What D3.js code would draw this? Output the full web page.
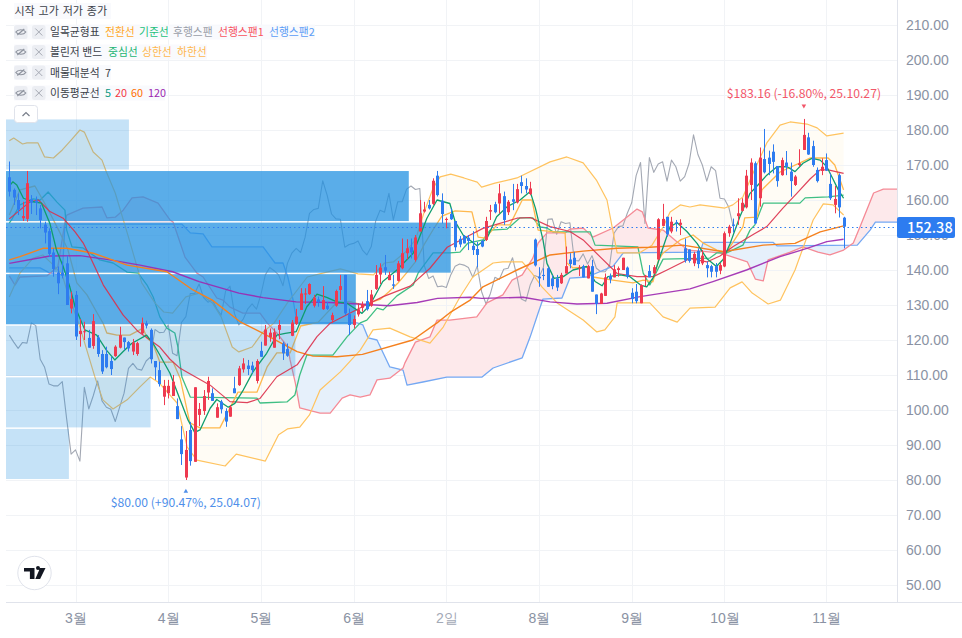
<!DOCTYPE html>
<html>
<head>
<meta charset="utf-8">
<title>차트</title>
<script src="https://cdn.jsdelivr.net/npm/d3@7"></script>
<style>
  html, body { margin: 0; padding: 0; background: #fff; }
  svg { display: block; font-family: "Noto Sans CJK KR", "Noto Sans", sans-serif; }
</style>
</head>
<body>
<svg id="chart" width="962" height="638"></svg>
<script>
// candles, one value per trading bar
var opens = [166.5,162.9,160,154.8,154.6,160.2,159.8,157.6,153,151.1,145,139.3,139.3,141.9,129,132.9,121.7,122.3,120.6,118.3,
  120.7,116,116,114,115.4,117.8,120.7,119.4,116.7,116,121.9,124.8,122.9,114,111.4,103.8,104.8,104,101.1,91.6,
  80.7,94.3,85.2,98.6,99.7,105,104.8,97.8,102.4,99.7,98.1,106.2,107.1,111.6,112.7,112.7,108.3,116.9,118.4,120.8,
  117.8,122.9,119,117.4,121.2,124.6,128.6,133,133.1,129.8,131.6,128.8,129.8,125.7,129.8,134.3,138.6,127.4,124.3,127.3,
  129.2,131.1,129.8,134.6,138.7,140.8,137.1,135.9,136.9,140.5,144.8,146.5,142.9,151,156.7,158.6,158.9,166.95,159.8,154.3,
  156,154,148.9,149.7,149.2,146.9,146,148.3,148.6,156.7,158.8,159,161.1,156.5,160.2,159.3,165.1,164,161.7,148.7,
  138.1,138.6,140.5,137.6,137.6,136.2,139,143,143.5,140.5,141.1,137.6,141.1,133,130.3,132.6,138.3,137.9,140,140,
  140.7,133.5,133.8,130.5,138.2,139.7,139,143,152.6,155.2,151,153.6,152.9,146.2,145.9,141.9,145.5,141.9,141.4,141.1,
  141.1,139.8,141,150.5,153,155.4,156.9,157.9,164.3,170.5,160.5,171.7,172.1,173.8,169.7,167.1,170.7,168.1,164.3,170,
  174.3,177.9,175.4,168.6,168.3,171.4,164.6,158.6,167.1,154.95];
var highs = [171,163.3,161.9,159.5,168.3,161.4,161,158.6,153.8,151.9,146.2,141,142.4,144.1,133.8,134,126,125.2,122.9,127.4,
  121.4,117.1,118.1,115.2,118.5,123.8,120.7,119.7,120.3,119.5,126.4,125.5,123.3,114,113.8,108.6,108.6,110,103.3,95.4,
  94,96.6,106.5,102,105.7,109.5,106.2,101.9,102.9,100.5,101.4,109.5,112.6,114.8,114.3,113.8,114.5,119.5,124.3,123.3,
  123.3,125.7,119.5,119,125.7,128.9,134.8,134.8,136.2,132.9,132.4,135.4,130.9,127.8,134.4,138.6,138.6,129,127,130.5,
  131,134.3,134.3,141.4,141.9,144.3,139.5,138.6,142.6,149,148.8,149,150,160,159.5,160,166.2,168.3,161.9,155,
  157.6,154,149.7,150,150,151.1,148,148.6,155.2,158.6,159.5,164.6,162.4,160,164.6,164.6,166.95,166.2,165.2,149,
  140.8,140.5,141,138.5,138.6,139.2,146.7,144.8,145.2,141.4,141.5,141.5,142.9,133,133.5,139,139,141.4,141,143.5,
  141,134.8,136,135.9,138.6,141.4,141.4,154.8,158.9,155.2,155.2,154.3,154.5,149,145.9,145.2,146.2,145.7,142.4,141.5,
  142,142,151,152.9,154.7,160.5,160.5,168.6,171.9,171,175,180.3,174.1,175.9,169.7,172.1,174,170.7,167.1,174.5,
  183.16,179.2,176.95,169.3,171.9,173.3,167.6,164,167.6,155.2];
var lows = [161,158.6,155.7,154,153.8,156,155.7,151.9,147.6,143.8,138.1,133.1,137.6,130,127.6,120,118.1,120,117.8,117.5,
  115.2,110.3,111.9,110,115.2,117.6,117.1,116.7,115.7,115.5,121.6,123.3,113.3,108.6,106.7,101.4,103.3,104,97.4,84.3,
  80,84.1,85.2,95.4,98.6,102.9,102.6,97.8,99,95.2,98.1,104.8,106.9,110.7,110,110.5,107.6,115.2,118.4,119.5,
  117.8,120.2,114.3,115.2,121.1,124.3,128.6,130.3,132.9,129.3,129.5,128.6,128.6,124.8,129.5,131.4,127.1,121.4,123.3,126.7,
  128.1,128.4,129.5,134.3,136,138.6,137.1,134.6,136.7,140.2,143,143.3,142.4,151,156.4,157.3,158.6,161,153.3,151.9,
  154.3,145.5,146.5,147.6,145.7,144.3,140.8,146.5,148.3,154.3,156.2,156.2,152.9,155.7,157.1,159,161.9,161.9,161.4,141,
  135.2,137.1,135.2,134.5,134,136,139,140.5,141.4,138.3,137.9,137.6,133.8,127.4,130.3,132.6,136.2,137.9,138.1,140,
  137.6,130.5,130.5,130.5,135.4,137.9,138.9,142.9,152.6,149.5,150.5,151,150,142.1,142.1,141.1,140.5,141.4,137.9,137.9,
  137.9,138.8,140.8,149.5,150.7,152.9,156.7,157.6,160,153.1,158.1,167.6,167.1,167.6,163.8,166.95,167.1,160.95,164,169.5,
  174.3,172.9,169.5,165,167.1,168.3,160,156.2,155,146.2];
var closes = [162.4,160.7,157.3,155.4,164.8,159.2,159.2,154.3,150.7,144.6,140.3,136.2,138.4,130,131.7,121,122.6,122.5,117.8,125.4,
  116,111,112.2,111.7,118.1,121.4,119.4,117.6,119.3,119.1,124.9,124.1,114.5,112.2,107.4,106.9,106.9,108.1,97.4,87.4,
  88.6,85.4,106.5,100.3,104,108.3,102.6,100.8,100.2,96.7,100.8,104.8,111.9,113.3,111.7,111.4,114,115.2,123,122.1,
  122.2,124.3,116.2,115.5,125,126.7,133.3,133.3,136,132.1,130.8,131.4,128.9,127.1,134,135.4,127.6,124.3,126,128.8,
  130.3,128.8,133,138.6,140.7,139.8,138.6,135.5,141.9,144.8,146.2,145,149.3,156.2,157.3,157.6,165.5,161.4,156,154.6,
  154.5,146.5,147.3,147.6,148.3,145.7,144.3,146.7,154,157.1,156.5,161.9,154.3,159.5,159.5,163.1,164,163,163.3,141.3,
  137.6,138.3,135.2,135.4,135,138.6,141.1,141.7,141.4,140.7,137.9,141.1,133.8,130.3,133.3,137.9,137.3,140.2,140.5,143.5,
  138.1,131.7,131.1,135.7,138.4,137.9,140.8,154.5,154.6,150.2,153.8,153.3,153.5,142.7,142.6,144.6,141.7,144.1,140.5,139.5,
  139.5,141.4,150.5,152.4,152.6,156.2,159.2,166.95,170.7,153.3,172.1,167.9,170.3,170.9,165.4,171.4,169.5,165.4,166.7,170.5,
  178.6,173,170,165.4,169.5,168.4,160.5,160.3,157.9,152.38];

// moving averages as [bar, price] readings
var ma5 = [[0,164],[0.8,165.2],[1.7,164.3],[3.2,160.5],[5.4,159.5],[7.3,159.1],[9.2,153.3],[10.7,145.7],[12.2,141],[13.7,135.2],[14.9,129.5],[17.1,122.9],[19.8,121.4],[22,117.1],[23.9,114.3],[25.8,116.7],[27.7,119],[31.1,121.4],[32.6,119],[34.1,115.7],[36.4,110.5],[38.7,102.9],[40.5,97.1],[42,93.6],[43.2,94.3],[45.5,100.5],[47,103],[49.6,100.8],[51.1,101.9],[53,105.7],[55.2,110.9],[58.3,116.2],[60.6,121.4],[62.5,121.9],[65,122.4],[67.4,129.5],[69.7,133.1],[71.9,132.2],[74.2,130.9],[76.5,130.5],[79.9,127.6],[81.7,130],[84.6,136.7],[87.8,140],[91.5,144.8],[94.6,154.8],[96.9,160],[99.8,159],[101,153.8],[102.8,150],[106,146.9],[108.2,149],[110.4,155.2],[112.8,158.1],[115.7,160],[118,162.4],[119.2,157.6],[120.9,148.6],[121.8,141.9],[123.4,137.6],[125.5,138.1],[127.7,140],[130.8,141],[132.7,136.7],[134.3,135.5],[135.6,138.1],[138.4,138.6],[140.6,138.1],[143,135.7],[144.4,135.2],[145.9,137.9],[147.9,145.7],[149.7,152.4],[151.3,153.5],[153.5,151],[155.8,147.6],[158,143.3],[160.2,141],[161.7,143],[163.3,147.6],[165.5,155.2],[167.8,161.9],[169.6,164.3],[171.6,167.1],[173.9,169.5],[176.2,169.5],[178,168.1],[179.8,170.5],[181.8,171.9],[183.7,171.4],[185.2,169.5],[186.7,165.7],[187.8,162.9],[189,160.5]];
var ma20 = [[0,154.6],[2.4,157.1],[4.7,159.5],[6.6,160],[9.2,156.7],[12.2,154.8],[14.9,150.9],[16.8,147.6],[18.3,143.8],[21.3,135.7],[25.8,127.1],[29.2,122.4],[31.9,120],[34,118.1],[36.4,114.5],[38.7,111.9],[45.5,107.1],[50,102.4],[53.9,102.1],[56.8,103.3],[60.6,109.5],[65.2,112.9],[69.7,120.95],[72.7,124.8],[80,129.5],[84.7,132.4],[90.8,135.4],[95.3,140.5],[99.2,146.5],[104.4,150],[107.3,151.9],[115,154.8],[118,155],[122.5,152.4],[127,151],[130,148.6],[133.8,143.8],[137.7,139],[142.2,138.1],[145.9,138.1],[149,140],[154.2,143.3],[158,142.3],[161,144],[164,146.7],[168.7,150.3],[171.6,152.4],[175.2,157.6],[178.4,161.9],[181.4,166],[183.7,168.6],[185.5,168.6],[189,167.6]];
var ma60 = [[0,142.9],[2.4,143.8],[7.6,146.2],[13,146.2],[19,144.8],[26.7,141.4],[35.7,139.5],[41.6,134.3],[46,131.4],[52.3,125.2],[57.5,121.9],[65.2,116.7],[68.8,115.4],[74.2,115.2],[80,115.9],[91.4,120],[96.9,124.9],[99.8,127.8],[104.4,131.4],[107.3,135.2],[115,140],[122.5,144.3],[130,145.4],[137.7,146.2],[145.1,146.5],[152.6,147.1],[161.7,145.2],[170.8,147.1],[178,147.6],[183.7,150.9],[189,152.6]];
var ma120 = [[0,141.9],[9.2,144],[16,144.1],[22.8,142.9],[29.6,141.4],[37,139.5],[43,136.7],[52,133.4],[57.5,132.1],[65,130.9],[72.6,130.7],[80,130.2],[86,129.8],[92.4,130.7],[97,131.9],[104.4,132.2],[107,131.9],[116.4,132.2],[122.5,130.9],[128.6,130.3],[135.4,130.5],[142.9,132.4],[154.2,134.6],[159.4,136.7],[167,140],[174.6,143.8],[180.7,146.2],[185.2,148.1],[189,148.8]];

// bollinger bands
var bbUpper = [[0,176.9],[1,177.7],[3,176],[4,176.3],[6.5,176.3],[8,172.3],[10,172],[12,174.3],[14,177.1],[16,180],[17,179.4],[19,173.7],[21,171.4],[22,168],[24,162],[27,149.4],[30,136.3],[33,130.6],[35,128],[37,127.7],[40,132.3],[43,133.4],[46,130.6],[48,126.6],[50.5,118],[52,116.6],[55,118],[57.5,122.3],[60,124.9],[63,130.6],[67.5,138],[71,139.1],[75,140.3],[79,138.9],[82.5,138.6],[85,142],[87,142.3],[89.7,145.1],[92,148.6],[94,156.6],[96,163.4],[97.6,166.6],[100,167.4],[103,166.3],[106,165.1],[107,163.7],[110,164.8],[115,166.3],[122.5,170.9],[126.3,172.3],[130,170.6],[133,165.7],[135.4,160],[136.7,151.4],[137.7,144.9],[142.8,144.9],[145.6,147.1],[148.1,152.3],[149.7,156.6],[152,158.6],[154.2,158],[156.5,158.6],[162.1,157.7],[163.9,158.6],[166.2,160.9],[168.5,167.7],[171.6,176.3],[174.6,181.4],[176.9,182.3],[180.7,181.7],[183,180.6],[185.2,178.3],[189,179.1]];
var bbLower = [[0,132.3],[2.4,139.1],[5.4,143.4],[7.6,144.3],[10,141.4],[12,138.6],[13,134.3],[16,123.7],[19.4,109.4],[21.2,102.9],[23.5,100.3],[26.7,102.9],[29.6,106.6],[31.9,109.4],[34,107.7],[38,102],[40.3,89.4],[42.5,85.7],[48.9,84],[51.4,87.4],[58,85.4],[61,92.9],[63,94.6],[65.8,95.1],[68,98.6],[70.4,105.7],[75,110.9],[79.5,117.1],[82.4,122.9],[86.2,123.4],[90.8,120.9],[95.3,119.1],[98.3,123.7],[102.1,132.3],[105,138],[109.6,142],[111.8,142.3],[116.2,142.3],[118.4,139.1],[120.7,135.1],[124.1,130.6],[130,125.7],[133.1,122.3],[134.9,122.9],[137.2,126.6],[137.7,130.6],[145.1,130.6],[148.1,126.6],[151.3,125.1],[154.2,129.1],[159.9,129.4],[163.3,134.9],[166,136.6],[168.3,133.4],[171.9,130.3],[174.7,131.4],[178,140],[182.1,154.3],[184.4,158.9],[186.6,158.6],[189,155.7]];

// ichimoku
var tenkan = [[0,155.7],[2.4,162.9],[5.8,164],[7.6,160],[9.2,156.3],[11.5,150.6],[13.3,145.7],[15.3,136.3],[17.6,132.9],[19.9,127.7],[21.2,124.9],[22.1,122],[24.4,121.4],[27.3,121.4],[30.3,123.4],[31.2,120.6],[32.5,119.1],[34.1,113.7],[37.1,113.7],[38.7,109.1],[40.9,96.3],[43.2,94.9],[47.7,94.9],[50,100.6],[51.8,105.1],[56.1,105.1],[58.4,112.3],[60.6,116.3],[63.6,116.3],[66,124],[70,125.1],[74,130.5],[77,131],[80,130],[84,131.6],[86,133.8],[88,136.2],[90,139.2],[92,142.3],[94,147.3],[96,151.5],[98,155.4],[101,156.9],[104.8,156.6],[106.2,149.4],[107.8,149.1],[110.5,152.9],[113.4,152.9],[116.2,160],[118.4,160],[119.8,151.4],[125.9,150.6],[126.3,142],[127.7,140.6],[131,140.9],[132.2,138],[136.7,137.1],[141.3,136.3],[143.6,137.1],[145.8,136.6],[147,142.6],[148,144.7],[152,148.6],[154.9,150],[157.2,147.7],[160.3,145.7],[162.5,145.1],[166.2,152.3],[166.6,154.9],[169.4,155.1],[170.5,162.9],[174.6,168],[179.6,170.9],[181.4,172],[185.5,172],[187,170],[189,162.9]];
var kijun = [[0,153.4],[0.5,154.3],[2.4,158.6],[5.4,160.3],[7,160],[8.8,162.3],[10.8,159.4],[12.6,157.1],[13,151.4],[14.2,146.6],[16.7,146.3],[20.5,142.9],[23.5,142],[26.7,139.4],[29.2,139.1],[31.2,135.7],[32.6,132.3],[34.1,126.6],[35.7,123.4],[37.5,122],[38.2,118],[39.1,109.4],[41,103.7],[56.1,103.4],[56.8,102],[62.9,102.3],[64.7,104.3],[65.8,110],[67.4,115.7],[73.3,115.7],[76.5,120.9],[79.5,124.9],[81,125.7],[83.3,129.1],[84.7,128.6],[87.8,132.6],[91.5,135.7],[92.6,139.1],[96,144.9],[99.8,144.9],[102.1,145.1],[103.9,147.7],[107.3,148.6],[108.9,151.4],[112.8,151.7],[115.7,154.9],[118.6,154.9],[120.2,152.3],[121.8,152],[123.2,150.9],[131.6,150.9],[132.7,147.1],[142.4,146.6],[143.6,139.1],[145.1,135.7],[148.1,143.1],[158.7,143.4],[160.3,144.9],[162.5,144.9],[166.2,147.1],[167.8,151.4],[168.9,152.9],[170.8,159.1],[179.1,159.1],[180.3,160.6],[185.5,160.9],[189,161.4]];
var span1 = [[0,138.3],[1.3,135.7],[2.4,138],[8.5,138.3],[11,140.9],[12.6,153.7],[13,155.7],[16.7,157.7],[21,158],[22.1,154.9],[24,155.1],[25.8,157.1],[27.8,160.6],[30.3,160.9],[33.7,159.1],[36.4,154.3],[37.1,153.7],[39.8,143.7],[42.5,139.1],[43.9,138],[47,132],[48.4,131.4],[50,129.4],[52.9,127.7],[56.8,127.7],[58.4,124.9],[60.6,122],[63.1,118],[63.6,114.3],[64.8,107.7],[65.8,100.6],[70.4,99.1],[72.7,99.1],[75.4,103.4],[77.2,104.3],[79.5,103.7],[81.7,104.3],[83.3,108.6],[86.2,109.1],[89.2,112],[89.6,113.4],[92,119.4],[95.3,120.9],[96.9,125.7],[99.8,125.7],[105.9,126.6],[108.2,130.6],[111.8,132.9],[113.9,137.1],[116.2,138.6],[118.6,143.4],[119.8,147.7],[121.8,150.6],[125.9,150.6],[127,151.7],[130,152],[132.2,149.4],[136.8,152],[139.1,154.3],[142.2,157.4],[143.4,156.6],[144.7,152],[148.1,151.4],[151.3,148],[153.8,145.7],[161,144.9],[167.2,142.3],[169,137.4],[170.8,136.9],[171.9,142.9],[176.9,145.1],[179.8,146.6],[183.2,145.1],[185.9,144.3],[189,145.7],[191.2,147.7],[192.7,152.3],[195.8,162],[198,163.1],[201.2,163.1]];
var span2 = [[0,140.6],[7,140.6],[9.2,139.1],[12,138.6],[12.6,153.1],[39.1,153.1],[41,150.6],[43.9,150.3],[45.9,146.6],[57.5,146.6],[60.2,142],[62,142],[63.1,138],[64.3,131.4],[65.2,124.9],[78.8,124.9],[80.1,124.3],[81.3,120.6],[83.3,120],[86.2,112.3],[89.2,111.4],[90.1,107.1],[93.7,108],[99.1,109.4],[107.1,109.4],[109.6,112],[116.2,114.9],[118,120.9],[119.8,127.7],[120.9,131.7],[125.2,132],[127,137.7],[130.9,138],[136.8,141.1],[139.1,144.9],[156.5,145.1],[157.2,147.9],[173,147.9],[173.9,146.9],[192.1,147.1],[195,151.4],[196.2,153.7],[201.2,153.7]];
var lagOffset = 25;

// volume profile rows, low price to high, and how far each reaches (in bars)
var profileEdges = [80,94.74,109.47,124.21,138.95,153.69,168.42,183.16];
var profileReach = [13.5,32,64.8,78.5,100,90.5,27.1];

// axis labels
var priceTicks = [50,60,70,80,90,100,110,120,130,140,150,160,170,180,190,200,210];
var monthBars = [15,36,57,78,99,120,141,162,185];
var monthLabels = ["3월","4월","5월","6월","2일","8월","9월","10월","11월"];
var lastPrice = 152.38;

var width = 962, left = 6, right = 897, bottom = 602;
var svg = d3.select("#chart");

var x = d3.scaleLinear().domain([0,189]).range([9.3,843.6]);
var y = d3.scaleLinear().domain([50,210]).range([585,25]);

var line = d3.line().x(function(d){ return x(d[0]); }).y(function(d){ return y(d[1]); });
var defs = svg.append("defs");

defs.append("clipPath").attr("id","plot").append("rect")
  .attr("x",left).attr("y",0).attr("width",right-left).attr("height",bottom);

// cloud colours are split by clipping on span 2
defs.append("clipPath").attr("id","aboveSpan2").append("path")
  .attr("d", d3.area().x(function(d){ return x(d[0]); }).y0(0).y1(function(d){ return y(d[1]); })(span2));
defs.append("clipPath").attr("id","belowSpan2").append("path")
  .attr("d", d3.area().x(function(d){ return x(d[0]); }).y0(bottom).y1(function(d){ return y(d[1]); })(span2));

// bollinger fill
var plot0 = svg.append("g").attr("clip-path","url(#plot)");
plot0.append("path")
  .attr("d", line(bbUpper.concat(bbLower.slice().reverse())))
  .attr("fill","#fffcf5");

// grid
var grid = svg.append("g").attr("stroke","#f1f3f6").attr("stroke-width",1);
grid.selectAll("line.h").data(priceTicks).enter().append("line")
  .attr("x1",left).attr("x2",right)
  .attr("y1",function(d){ return Math.round(y(d))+0.5; })
  .attr("y2",function(d){ return Math.round(y(d))+0.5; });
grid.selectAll("line.v").data(monthBars).enter().append("line")
  .attr("y1",0).attr("y2",bottom)
  .attr("x1",function(d){ return Math.round(x(d))+0.5; })
  .attr("x2",function(d){ return Math.round(x(d))+0.5; });

var plot = svg.append("g").attr("clip-path","url(#plot)");

// cloud
var cloudShape = line(span1.concat(span2.slice().reverse()));
plot.append("g").attr("clip-path","url(#aboveSpan2)").append("path")
  .attr("d",cloudShape).attr("fill","#fde9eb");
plot.append("g").attr("clip-path","url(#belowSpan2)").append("path")
  .attr("d",cloudShape).attr("fill","#e6f0fb");

function drawLine(parent, pts, color, w) {
  return parent.append("path").attr("d",line(pts)).attr("fill","none")
    .attr("stroke",color).attr("stroke-width",w).attr("stroke-linejoin","round");
}

var lagSpan = closes.slice(lagOffset).map(function(c,i){ return [i,c]; });
drawLine(plot, lagSpan, "#a3a8b3", 1.1);
drawLine(plot, span2, "#74a8f3", 1.3);
drawLine(plot, span1, "#f58a96", 1.3);
drawLine(plot, kijun, "#3fbf84", 1.3);
drawLine(plot, tenkan, "#ffb84d", 1.3);
drawLine(plot, bbUpper, "#ffc35f", 1.2);
drawLine(plot, bbLower, "#ffc35f", 1.2);

// volume profile sits over the indicators, under the averages and candles
var profileMax = d3.max(profileReach);
plot.selectAll("rect.row").data(profileReach).enter().append("rect")
  .attr("x",left)
  .attr("width",function(d){ return x(d)-left; })
  .attr("y",function(d,i){ return y(profileEdges[i+1])+0.5; })
  .attr("height",function(d,i){ return y(profileEdges[i])-y(profileEdges[i+1])-1.5; })
  .attr("fill","#2090e1")
  .attr("fill-opacity",function(d){ return d>=0.7*profileMax ? 0.74 : 0.26; });

drawLine(plot, ma120, "#9c27b0", 1.4).attr("stroke-opacity",0.9);
drawLine(plot, ma60, "#f5811f", 1.4);
drawLine(plot, ma20, "#dc2f4a", 1.2).attr("stroke-opacity",0.9);
drawLine(plot, ma5, "#0f9d6e", 1.3);

// candles
var bars = d3.range(closes.length);
var candle = plot.append("g").selectAll("g").data(bars).enter().append("g")
  .attr("fill",function(i){ return closes[i]>=opens[i] ? "#ee3a50" : "#2e7cf0"; });
candle.append("rect")
  .attr("x",function(i){ return Math.round(x(i)); }).attr("width",1)
  .attr("y",function(i){ return y(highs[i]); })
  .attr("height",function(i){ return y(lows[i])-y(highs[i]); });
candle.append("rect")
  .attr("x",function(i){ return Math.round(x(i))-1; }).attr("width",3)
  .attr("y",function(i){ return y(Math.max(opens[i],closes[i])); })
  .attr("height",function(i){ return Math.max(1,Math.abs(y(opens[i])-y(closes[i]))); });

// last price line
var lastY = Math.round(y(lastPrice))+0.5;
plot.append("line")
  .attr("x1",left).attr("x2",right).attr("y1",lastY).attr("y2",lastY)
  .attr("stroke","#2f7df0").attr("stroke-width",1).attr("stroke-dasharray","1.5 3");

// high / low notes
function note(bar, price, text, color, dy) {
  var px = x(bar), py = y(price);
  plot.append("text").attr("x",px).attr("y",py+(dy<0 ? -20.5 : 27)).attr("text-anchor","middle")
    .attr("font-size",12.2).attr("fill",color).text(text);
  plot.append("path").attr("transform","translate("+px+","+(py+dy)+")"+(dy<0 ? " rotate(180)" : ""))
    .attr("d",d3.symbol().type(d3.symbolTriangle).size(9)()).attr("fill",color);
}
note(180, 183.16, "$183.16 (-16.80%, 25.10.27)", "#f2576a", -13);
note(40, 80, "$80.00 (+90.47%, 25.04.07)", "#4f8fea", 11.5);

// axes
svg.append("line").attr("x1",right+0.5).attr("x2",right+0.5).attr("y1",0).attr("y2",bottom)
  .attr("stroke","#e0e3eb");
svg.append("line").attr("x1",left).attr("x2",width).attr("y1",bottom+0.5).attr("y2",bottom+0.5)
  .attr("stroke","#e0e3eb");

var yAxis = d3.axisRight(y).tickValues(priceTicks).tickFormat(d3.format(".2f")).tickSize(0).tickPadding(9);
svg.append("g").attr("transform","translate("+right+",0)").call(yAxis)
  .call(function(g){ g.select(".domain").remove(); })
  .selectAll("text").attr("font-size",14).attr("font-family","inherit").attr("fill","#8a92a3");

var xAxis = d3.axisBottom(x).tickValues(monthBars)
  .tickFormat(function(d,i){ return monthLabels[i]; }).tickSize(0).tickPadding(11);
svg.append("g").attr("transform","translate(0,"+bottom+")").call(xAxis)
  .call(function(g){ g.select(".domain").remove(); })
  .selectAll("text").attr("font-size",14).attr("font-family","inherit")
  .attr("font-weight",function(d,i){ return monthLabels[i]=="2일" ? 400 : 500; })
  .attr("fill",function(d,i){ return monthLabels[i]=="2일" ? "#a3a9b6" : "#8a92a3"; });

// current price tag
svg.append("rect").attr("x",right).attr("y",lastY-10.5).attr("width",58).attr("height",21).attr("rx",2)
  .attr("fill","#2d7cf0");
svg.append("text").attr("x",right+10).attr("y",lastY+5.5).attr("font-size",14.5).attr("font-weight",500)
  .attr("fill","#fff").text("152.38");

// legend
var legendRows = [
  { y:32, bg:301, words:[["일목균형표",50,"#3b3f49"],["전환선",105,"#ffa726"],["기준선",139,"#22c07a"],["후행스팬",173,"#9a9ea8"],["선행스팬1",218,"#f7525f"],["선행스팬2",269,"#5b9cf6"]] },
  { y:52, bg:193, words:[["볼린저 밴드",50,"#3b3f49"],["중심선",108,"#22b573"],["상한선",142,"#ffb74d"],["하한선",177,"#ffb74d"]] },
  { y:72.5, bg:97, words:[["매물대분석",50,"#3b3f49"],["7",105,"#3b3f49"]] },
  { y:93, bg:151, words:[["이동평균선",50,"#3b3f49"],["5",105,"#089981"],["20",115,"#f23645"],["60",131,"#ff6d00"],["120",148,"#9c27b0"]] }
];
var legend = svg.append("g").attr("font-size",10.8);
legend.append("rect").attr("x",14).attr("y",3).attr("width",97).attr("height",16).attr("fill","#f8f9fd").attr("fill-opacity",0.85);
legend.append("text").attr("x",14.5).attr("y",15).attr("fill","#3b3f49").attr("font-size",11)
  .attr("word-spacing",1.4).text("시작 고가 저가 종가");

legendRows.forEach(function(r){
  var g = legend.append("g");
  g.append("rect").attr("x",14).attr("y",r.y-7.5).attr("width",r.bg).attr("height",15).attr("fill","#f8f9fd").attr("fill-opacity",0.85);
  [14,32].forEach(function(bx){
    g.append("rect").attr("x",bx).attr("y",r.y-7).attr("width",13.5).attr("height",14).attr("rx",2.5).attr("fill","#eceef3");
  });
  // hidden-eye icon
  g.append("path").attr("transform","translate(20.8,"+r.y+")")
    .attr("d","M-5 0C-3-3 3-3 5 0C3 3-3 3-5 0ZM-3.5 3L3.5-3").attr("fill","none").attr("stroke","#8f949f").attr("stroke-width",1.2);
  // close icon
  g.append("path").attr("transform","translate(38.8,"+r.y+")")
    .attr("d","M-3.5-3.5L3.5 3.5M3.5-3.5L-3.5 3.5").attr("stroke","#a5a9b3").attr("stroke-width",1);
  r.words.forEach(function(w){
    g.append("text").attr("x",w[1]).attr("y",r.y+4).attr("fill",w[2]).text(w[0]);
  });
});

// collapse button
svg.append("rect").attr("x",14.5).attr("y",105.5).attr("width",23).attr("height",17).attr("rx",3)
  .attr("fill","#fff").attr("stroke","#e0e3eb");
svg.append("path").attr("d","M22.5 116L26 112.5L29.5 116").attr("fill","none").attr("stroke","#787e8a").attr("stroke-width",1.2);

// logo
var logo = svg.append("g").attr("transform","translate(34.5,573)");
logo.append("circle").attr("r",16.7).attr("fill","#fff").attr("stroke","#e0e3eb");
logo.append("path").attr("d","M-10.5-5H0V6H-4.6V-1.4H-10.5ZM1.5-5A2 2 0 1 0 5.5-5A2 2 0 1 0 1.5-5ZM5.6-5H11L5.6 6H.8Z").attr("fill","#131722");
</script>
</body>
</html>
